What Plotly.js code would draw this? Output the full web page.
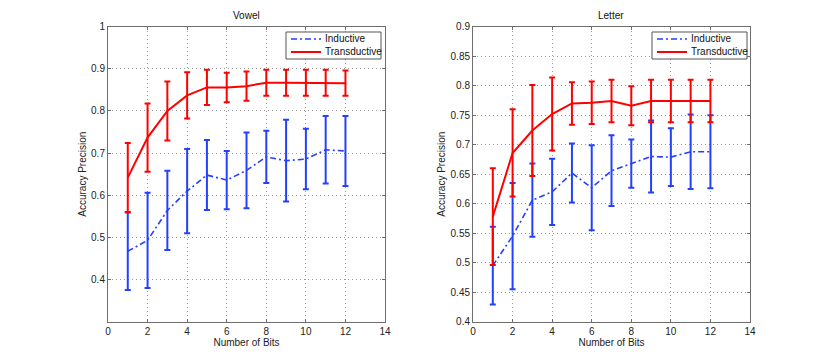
<!DOCTYPE html>
<html>
<head>
<meta charset="utf-8">
<script src="https://cdn.plot.ly/plotly-3.0.1.min.js"></script>
<style>
    html, body { margin: 0; padding: 0; background: #ffffff; }
    #chart { width: 830px; height: 361px; }
</style>
</head>
<body>
<div id="chart"></div>
<script>
// Number of bits (x values shared by both panels)
const bits = [1, 2, 3, 4, 5, 6, 7, 8, 9, 10, 11, 12];

// Vowel panel
const vowelInductive = [0.467, 0.493, 0.564, 0.610, 0.648, 0.636, 0.659, 0.691, 0.682, 0.686, 0.708, 0.705];
const vowelInductiveErr = [0.092, 0.113, 0.094, 0.100, 0.083, 0.069, 0.090, 0.062, 0.097, 0.072, 0.080, 0.083];
const vowelTransductive = [0.642, 0.737, 0.800, 0.837, 0.856, 0.856, 0.859, 0.867, 0.867, 0.867, 0.867, 0.866];
const vowelTransductiveErr = [0.082, 0.081, 0.070, 0.055, 0.042, 0.035, 0.035, 0.031, 0.031, 0.031, 0.031, 0.030];

// Letter panel
const letterInductive = [0.495, 0.545, 0.606, 0.620, 0.652, 0.627, 0.656, 0.668, 0.680, 0.679, 0.688, 0.688];
const letterInductiveErr = [0.066, 0.090, 0.062, 0.056, 0.050, 0.072, 0.060, 0.041, 0.061, 0.049, 0.063, 0.062];
const letterTransductive = [0.578, 0.686, 0.724, 0.752, 0.770, 0.771, 0.774, 0.766, 0.774, 0.774, 0.774, 0.774];
const letterTransductiveErr = [0.082, 0.074, 0.077, 0.062, 0.036, 0.036, 0.036, 0.033, 0.036, 0.036, 0.036, 0.036];

const vowelTicks = [0.4, 0.5, 0.6, 0.7, 0.8, 0.9, 1];
const bitTicks = [0, 2, 4, 6, 8, 10, 12, 14];
const seriesNames = ['Inductive', 'Transductive'];

const W = 830, H = 361;
const BLUE = '#2440ff';
const RED = '#ff0000';
const BLUE_DASH = '6px,3px,2px,3px';
const FONT = 'Liberation Sans, Arial, Helvetica, sans-serif';

function series(name, y, err, color, dash, width, xa, ya) {
    return {
        type: 'scatter',
        mode: 'lines',
        name: name,
        x: bits,
        y: y,
        xaxis: xa,
        yaxis: ya,
        showlegend: false,
        line: { color: color, width: width, dash: dash },
        error_y: {
            type: 'data',
            array: err,
            visible: true,
            color: color,
            thickness: 2,
            width: 3
        }
    };
}

const traces = [
    series(seriesNames[0], vowelInductive, vowelInductiveErr, BLUE, BLUE_DASH, 1.6, 'x', 'y'),
    series(seriesNames[1], vowelTransductive, vowelTransductiveErr, RED, 'solid', 2, 'x', 'y'),
    series(seriesNames[0], letterInductive, letterInductiveErr, BLUE, BLUE_DASH, 1.6, 'x2', 'y2'),
    series(seriesNames[1], letterTransductive, letterTransductiveErr, RED, 'solid', 2, 'x2', 'y2')
];

const axisStyle = {
    showline: true,
    linecolor: '#6e6e6e',
    linewidth: 1,
    mirror: 'ticks',
    ticks: 'inside',
    ticklen: 3,
    tickcolor: '#6e6e6e',
    showgrid: true,
    gridcolor: '#9a9a9a',
    griddash: '1px,3px',
    gridwidth: 1,
    zeroline: false,
    tickfont: { size: 10, color: '#222222', family: FONT }
};

function xAxis(domain, anchor) {
    return Object.assign({}, axisStyle, {
        domain: domain,
        anchor: anchor,
        range: [0, 14],
        tickvals: bitTicks,
        title: { text: 'Number of Bits', font: { size: 10, color: '#222222', family: FONT }, standoff: 2 }
    });
}

// Boxed legend like the MATLAB one (Plotly legend rows are too tall)
const shapes = [];
const annotations = [];
function addLegend(boxLeft) {
    const px = v => v / W, py = v => 1 - v / H;
    shapes.push({ type: 'rect', xref: 'paper', yref: 'paper',
        x0: px(boxLeft), x1: px(boxLeft + 95), y0: py(32), y1: py(59),
        line: { color: '#555555', width: 1 }, fillcolor: '#ffffff', layer: 'above' });
    const rows = [{ y: 39, color: BLUE, dash: BLUE_DASH, width: 1.6 }, { y: 52, color: RED, dash: 'solid', width: 2 }];
    rows.forEach((r, i) => {
        shapes.push({ type: 'line', xref: 'paper', yref: 'paper',
            x0: px(boxLeft + 5), x1: px(boxLeft + 35), y0: py(r.y), y1: py(r.y),
            line: { color: r.color, width: r.width, dash: r.dash }, layer: 'above' });
        annotations.push({ text: seriesNames[i], xref: 'paper', yref: 'paper',
            x: px(boxLeft + 37), y: py(r.y), xanchor: 'left', yanchor: 'middle',
            showarrow: false, font: { size: 10, color: '#111111', family: FONT } });
    });
}
addLegend(286);
addLegend(652);

annotations.push(
    { text: 'Vowel', x: 0.2970, xref: 'paper', y: 1 - 15.5 / H, yref: 'paper', xanchor: 'center', yanchor: 'middle', showarrow: false, font: { size: 10, color: '#111111' } },
    { text: 'Letter', x: 0.7367, xref: 'paper', y: 1 - 15.5 / H, yref: 'paper', xanchor: 'center', yanchor: 'middle', showarrow: false, font: { size: 10, color: '#111111' } }
);

const layout = {
    width: W,
    height: H,
    margin: { l: 0, r: 0, t: 0, b: 0 },
    paper_bgcolor: '#ffffff',
    plot_bgcolor: '#ffffff',
    font: { family: FONT, size: 10, color: '#222222' },
    showlegend: false,
    xaxis: xAxis([0.1301, 0.4639], 'y'),
    xaxis2: xAxis([0.5699, 0.9036], 'y2'),
    yaxis: Object.assign({}, axisStyle, {
        domain: [0.1089, 0.926],
        anchor: 'x',
        range: [0.3, 1],
        tickvals: vowelTicks,
        title: { text: 'Accuracy Precision', font: { size: 10, color: '#222222', family: FONT }, standoff: 2 }
    }),
    yaxis2: Object.assign({}, axisStyle, {
        domain: [0.1089, 0.926],
        anchor: 'x2',
        range: [0.4, 0.9],
        tick0: 0.4,
        dtick: 0.05,
        title: { text: 'Accuracy Precision', font: { size: 10, color: '#222222', family: FONT }, standoff: 3 }
    }),
    shapes: shapes,
    annotations: annotations
};

Plotly.newPlot('chart', traces, layout, { displayModeBar: false, staticPlot: true });
</script>
</body>
</html>
